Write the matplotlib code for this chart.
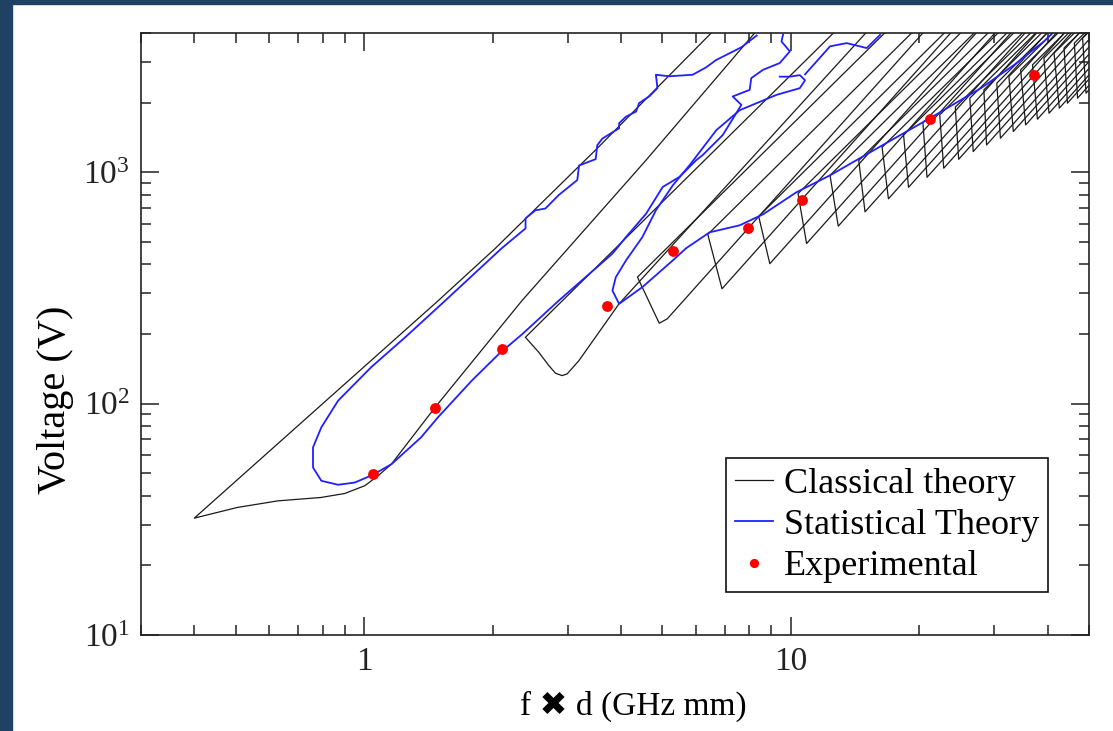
import matplotlib
matplotlib.use("Agg")
import matplotlib.pyplot as plt
from matplotlib.patches import Rectangle
from matplotlib.ticker import FixedLocator, FixedFormatter, LogLocator, NullFormatter

plt.rcParams['font.family'] = ['Liberation Serif', 'DejaVu Sans']
plt.rcParams['mathtext.fontset'] = 'custom'
plt.rcParams['mathtext.rm'] = 'Liberation Serif'

# ---- data (fd in GHz mm, voltage in V) ----
V_TOP = 4000

# experimental points
exp_fd = [1.05, 1.47, 2.10, 3.70, 5.29, 7.94, 10.6, 21.2, 37.2]
exp_v = [49.6, 95.4, 173, 265, 456, 574, 759, 1694, 2630]

# classical theory, first order zone (upper branch, tip, lower branch)
zone1_fd = [6.51, 3.52, 2.03, 1.493, 0.400, 0.505, 0.628, 0.792, 0.901, 1.004,
            1.079, 1.159, 1.467, 2.345, 4.577, 8.23]
zone1_v = [4000, 1270, 469, 279, 32.0, 35.6, 38.0, 39.3, 40.9, 44.2,
           48.8, 54.8, 96.4, 279, 1127, 4000]

# classical theory, third and fifth order zones
zone3_fd = [12.59, 2.388, 2.567, 2.710, 2.810, 2.912, 2.992, 3.188, 3.959, 14.99]
zone3_v = [4000, 193.6, 166.7, 146.1, 135.3, 132.2, 134.5, 153.5, 270.2, 4000]
zone5_fd = [16.6, 4.372, 4.66, 4.918, 5.135, 20.4]
zone5_v = [4000, 352.3, 274.5, 222.6, 232.6, 4000]

# higher order zones: corner, minimum and where both branches reach V_TOP
corner_fd = [6.39, 8.41, 10.40, 12.36, 14.43, 16.37, 18.38, 20.4, 22.34, 24.3,
             26.28, 28.35, 30.4, 32.45, 34.57, 36.86, 39.2, 41.4, 43.7, 46.2, 48.3]
corner_v = [539, 645, 809, 970, 1124, 1283, 1450, 1641, 1770, 1912,
            2091, 2271, 2428, 2596, 2773, 2914, 3116, 3275, 3443, 3617, 3802]
min_fd = [6.90, 8.93, 10.89, 12.92, 14.93, 16.94, 18.88, 20.86, 22.83, 24.75,
          26.77, 28.77, 31.0, 33.23, 35.52, 37.85, 40.3, 42.6, 44.5, 47.0, 49.2]
min_v = [313.7, 402.5, 492, 585, 674.5, 768, 861, 951.5, 1041, 1138,
         1229, 1313, 1404, 1501, 1602, 1696, 1800, 1893, 1989, 2091, 2198]
left_top_fd = [19.2, 22.9, 25.0, 26.9, 29.0, 30.6, 32.1, 33.3, 34.9, 36.5,
               37.5, 38.7, 39.9, 41.1, 42.3, 43.8, 44.8, 46.2, 47.5, 48.8, 49.7]
right_top_fd = [23.7, 27.2, 30.1, 32.8, 35.4, 37.7, 39.8, 41.9, 43.8, 45.5,
                47.4, 49.4, 51.6, 53.5, 55.4, 57.4, 59.3, 61.2, 62.5, 64.4, 65.7]

# statistical theory, first zone
stat1_fd = [8.32, 7.66, 6.69, 6.33, 5.89, 5.19, 4.83, 4.87, 4.66, 4.41, 4.34, 4.11,
            3.96, 3.96, 3.62, 3.52, 3.49, 3.19, 3.16, 2.86, 2.66, 2.52, 2.39, 2.39,
            2.10, 1.55, 1.25, 1.04, 0.869, 0.794, 0.759, 0.759, 0.794, 0.869, 0.951,
            1.05, 1.16, 1.36, 1.49, 1.79, 2.07, 2.35, 2.86, 3.82, 4.11, 4.58, 5.01,
            5.48, 6.00, 6.22, 6.93, 7.66, 7.31, 8.01, 8.08, 8.61, 9.42, 9.95, 9.51, 9.59]
stat1_v = [3900, 3470, 3060, 2840, 2640, 2600, 2640, 2310, 2130, 1990, 1830, 1740,
           1630, 1550, 1400, 1310, 1140, 1070, 926, 798, 697, 685, 632, 572,
           469, 279, 194, 144, 103, 79, 64.7, 53.0, 46.4, 44.6, 45.6,
           49.3, 54.8, 71.5, 87.3, 126, 164, 200, 279, 445, 525, 662, 864,
           954, 1127, 1188, 1450, 1956, 2127, 2271, 2553, 2773, 2965, 3331, 3679, 3931]

# statistical theory, second zone (upper branch from far end to tip, then lower branch)
stat2_fd = [9.42, 9.95, 10.5, 10.8, 10.5, 9.26, 7.59, 6.69, 5.79, 5.29, 4.83, 4.49,
            4.11, 3.89, 3.82, 3.96, 4.49, 5.29, 5.68, 6.45, 7.59, 8.61, 10.3, 12.36,
            16.2, 21.2, 27.9, 33.4, 39.2, 41.1]
stat2_v = [2590, 2590, 2630, 2500, 2310, 2161, 1855, 1520, 1072, 878, 685, 525,
           416, 352, 308, 270, 319, 416, 469, 550, 590, 658, 819, 970,
           1292, 1713, 2310, 2914, 3679, 4000]
# short piece of the second statistical zone near the top
stat2_top_fd = [10.8, 12.36, 13.52, 15.07, 16.2]
stat2_top_v = [2650, 3502, 3617, 3443, 3931]

# ---- figure ----
fig = plt.figure(figsize=(11.13, 7.31), dpi=100)
fig.patches.append(Rectangle((0, 0), 12 / 1113, 1, transform=fig.transFigure,
                             color='#1f4264', zorder=0))
fig.patches.append(Rectangle((0, 1 - 4 / 731), 1, 4 / 731, transform=fig.transFigure,
                             color='#1f4264', zorder=0))

ax = fig.add_axes([141 / 1113, 1 - 635 / 731, 948 / 1113, 602 / 731])
ax.set_xscale('log')
ax.set_yscale('log')

black = '#1a1a1a'
lw_k = 0.9
h_class, = ax.plot(zone1_fd, zone1_v, color=black, lw=lw_k)
ax.plot(zone3_fd, zone3_v, color=black, lw=lw_k)
ax.plot(zone5_fd, zone5_v, color=black, lw=lw_k)
for i in range(len(corner_fd)):
    ax.plot([left_top_fd[i], corner_fd[i], min_fd[i], right_top_fd[i]],
            [V_TOP, corner_v[i], min_v[i], V_TOP], color=black, lw=lw_k)

blue = '#2020ff'
h_stat, = ax.plot(stat1_fd, stat1_v, color=blue, lw=1.3)
ax.plot(stat2_fd, stat2_v, color=blue, lw=1.3)
ax.plot(stat2_top_fd, stat2_top_v, color=blue, lw=1.3)

h_exp, = ax.plot(exp_fd, exp_v, ls='none', marker='o', ms=7.8, color='#ff0000',
                 mec='none', zorder=5)

ax.set_xlim(0.3, 50)
ax.set_ylim(10, V_TOP)

ax.xaxis.set_major_locator(FixedLocator([1, 10]))
ax.xaxis.set_major_formatter(FixedFormatter(['1', '10']))
ax.xaxis.set_minor_locator(LogLocator(base=10, subs=range(2, 10)))
ax.xaxis.set_minor_formatter(NullFormatter())
ax.yaxis.set_major_locator(FixedLocator([10, 100, 1000]))
ax.yaxis.set_major_formatter(FixedFormatter([r'$\mathregular{10^{1}}$',
                                             r'$\mathregular{10^{2}}$',
                                             r'$\mathregular{10^{3}}$']))
ax.yaxis.set_minor_locator(LogLocator(base=10, subs=range(2, 10)))
ax.yaxis.set_minor_formatter(NullFormatter())

ax.tick_params(which='both', direction='in', top=True, right=True, width=1.1,
               colors='#222222')
ax.tick_params(which='major', length=13, labelsize=24, pad=8)
ax.tick_params(which='minor', length=7)
for sp in ax.spines.values():
    sp.set_linewidth(1.2)
    sp.set_color('#222222')

ax.set_xlabel('f \u2716 d (GHz mm)', fontsize=24)
ax.xaxis.set_label_coords(0.519, -0.118)
ax.xaxis.label.set_va('center')
ax.set_ylabel('Voltage (V)', fontsize=29)
ax.yaxis.set_label_coords(-0.0907, 0.39)
ax.yaxis.label.set_va('center')

leg = ax.legend([h_class, h_stat, h_exp],
                ['Classical theory', 'Statistical Theory', 'Experimental'],
                loc='lower right', bbox_to_anchor=(0.957, 0.071), borderaxespad=0,
                fontsize=26, fancybox=False, edgecolor='#111111', framealpha=1,
                handlelength=1.05, handletextpad=0.3, labelspacing=0.22,
                borderpad=0.25, markerscale=0.85)
leg.get_frame().set_linewidth(1.2)

fig.savefig('out.png', dpi=100)
